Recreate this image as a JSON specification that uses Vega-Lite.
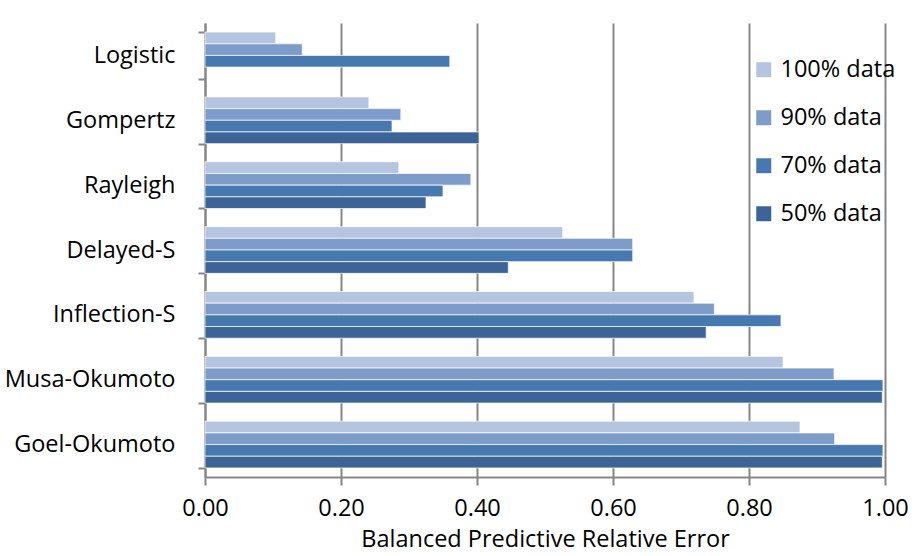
{
  "$schema": "https://vega.github.io/schema/vega-lite/v6.json",
  "width": 680,
  "height": 454,
  "autosize": {"type": "none"},
  "padding": {"left": 205, "top": 23, "right": 35, "bottom": 79},
  "background": "white",
  "data": {
    "values": [
      {"model": "Logistic", "series": "100% data", "error": 0.104},
      {"model": "Logistic", "series": "90% data", "error": 0.143},
      {"model": "Logistic", "series": "70% data", "error": 0.360},
      {"model": "Gompertz", "series": "100% data", "error": 0.241},
      {"model": "Gompertz", "series": "90% data", "error": 0.288},
      {"model": "Gompertz", "series": "70% data", "error": 0.275},
      {"model": "Gompertz", "series": "50% data", "error": 0.403},
      {"model": "Rayleigh", "series": "100% data", "error": 0.285},
      {"model": "Rayleigh", "series": "90% data", "error": 0.391},
      {"model": "Rayleigh", "series": "70% data", "error": 0.350},
      {"model": "Rayleigh", "series": "50% data", "error": 0.325},
      {"model": "Delayed-S", "series": "100% data", "error": 0.526},
      {"model": "Delayed-S", "series": "90% data", "error": 0.629},
      {"model": "Delayed-S", "series": "70% data", "error": 0.629},
      {"model": "Delayed-S", "series": "50% data", "error": 0.446},
      {"model": "Inflection-S", "series": "100% data", "error": 0.719},
      {"model": "Inflection-S", "series": "90% data", "error": 0.749},
      {"model": "Inflection-S", "series": "70% data", "error": 0.847},
      {"model": "Inflection-S", "series": "50% data", "error": 0.737},
      {"model": "Musa-Okumoto", "series": "100% data", "error": 0.850},
      {"model": "Musa-Okumoto", "series": "90% data", "error": 0.925},
      {"model": "Musa-Okumoto", "series": "70% data", "error": 0.997},
      {"model": "Musa-Okumoto", "series": "50% data", "error": 0.996},
      {"model": "Goel-Okumoto", "series": "100% data", "error": 0.875},
      {"model": "Goel-Okumoto", "series": "90% data", "error": 0.926},
      {"model": "Goel-Okumoto", "series": "70% data", "error": 0.997},
      {"model": "Goel-Okumoto", "series": "50% data", "error": 0.996}
    ]
  },
  "mark": {"type": "bar", "stroke": "#ffffff", "strokeWidth": 1, "strokeOpacity": 0.7},
  "encoding": {
    "y": {
      "field": "model",
      "type": "nominal",
      "sort": ["Logistic", "Gompertz", "Rayleigh", "Delayed-S", "Inflection-S", "Musa-Okumoto", "Goel-Okumoto"],
      "scale": {"paddingInner": 0.28, "paddingOuter": 0.14},
      "axis": {
        "title": null,
        "tickBand": "extent",
        "tickSize": 7,
        "tickWidth": 2,
        "tickColor": "#868686",
        "domainColor": "#868686",
        "domainWidth": 2,
        "labelPadding": 23,
        "labelFontSize": 23.5,
        "labelColor": "#000000",
        "grid": false
      }
    },
    "yOffset": {
      "field": "series",
      "type": "nominal",
      "sort": ["100% data", "90% data", "70% data", "50% data"],
      "scale": {"paddingInner": 0, "paddingOuter": 0}
    },
    "x": {
      "field": "error",
      "type": "quantitative",
      "scale": {"domain": [0, 1], "nice": false},
      "axis": {
        "title": "Balanced Predictive Relative Error",
        "values": [0, 0.2, 0.4, 0.6, 0.8, 1.0],
        "format": ".2f",
        "labelFlush": false,
        "grid": true,
        "gridColor": "#868686",
        "gridWidth": 2,
        "tickSize": 8,
        "tickWidth": 2,
        "tickColor": "#868686",
        "domainColor": "#868686",
        "domainWidth": 2,
        "labelPadding": 11,
        "labelFontSize": 23.5,
        "labelColor": "#000000",
        "titleFontSize": 23.5,
        "titleFontWeight": "normal",
        "titleColor": "#000000",
        "titlePadding": 8
      }
    },
    "color": {
      "field": "series",
      "type": "nominal",
      "sort": ["100% data", "90% data", "70% data", "50% data"],
      "scale": {
        "domain": ["100% data", "90% data", "70% data", "50% data"],
        "range": ["#b5c4df", "#7e9cc9", "#4878b0", "#3d6496"]
      },
      "legend": {
        "title": null,
        "orient": "none",
        "legendX": 547,
        "legendY": 35,
        "symbolType": "square",
        "symbolSize": 225,
        "symbolStrokeWidth": 0,
        "labelFontSize": 23.5,
        "labelColor": "#000000",
        "labelOffset": 5,
        "rowPadding": 23
      }
    }
  },
  "config": {
    "font": "Open Sans",
    "view": {"stroke": null}
  }
}
